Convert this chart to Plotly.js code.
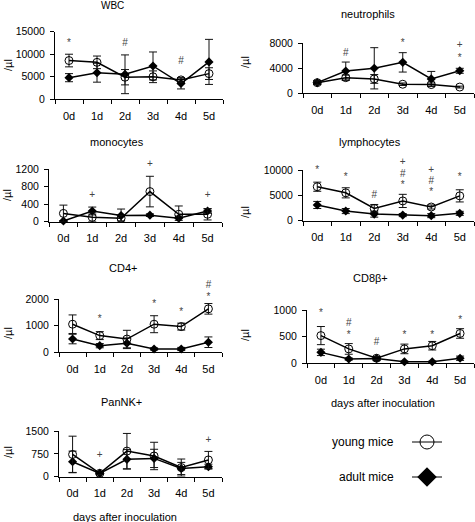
<!DOCTYPE html>
<html>
<head>
<meta charset="utf-8">
<script src="https://cdn.plot.ly/plotly-3.0.1.min.js"></script>
<style>
html,body{margin:0;padding:0;background:#fff;}
#chart{width:475px;height:522px;}
</style>
</head>
<body>
<div id="chart"></div>
<script>
// ---------- data ----------
const days = ['0d', '1d', '2d', '3d', '4d', '5d'];
const panelTitles = ['WBC', 'neutrophils', 'monocytes', 'lymphocytes', 'CD4+', 'CD8β+', 'PanNK+'];
const yUnit = '/µl';
const xTitle = 'days after inoculation';
const seriesNames = ['young mice', 'adult mice'];

// WBC
const wbcYoung = [8600, 8200, 4900, 5000, 4300, 5700];
const wbcYoungErr = [1400, 1400, 1700, 1300, 500, 1300];
const wbcAdult = [4800, 5900, 5550, 7400, 3500, 8300];
const wbcAdultErr = [900, 2100, 4300, 3100, 1200, 5000];
const wbcSigDays = ['0d', '2d', '4d'];
const wbcSigText = ['*', '#', '#'];
const wbcSigY = [12300, 12300, 8300];

// neutrophils
const neuYoung = [1700, 2500, 2300, 1450, 1400, 1000];
const neuYoungErr = [300, 400, 700, 200, 250, 150];
const neuAdult = [1700, 3550, 4000, 4950, 2300, 3600];
const neuAdultErr = [300, 1450, 3300, 1550, 1200, 400];
const neuSigDays = ['1d', '3d', '5d', '5d'];
const neuSigText = ['#', '*', '+', '*'];
const neuSigY = [6400, 8000, 7700, 5600];

// monocytes
const monYoung = [190, 100, 80, 690, 170, 170];
const monYoungErr = [190, 100, 60, 350, 190, 130];
const monAdult = [15, 245, 140, 150, 80, 245];
const monAdultErr = [10, 90, 150, 30, 50, 50];
const monSigDays = ['1d', '3d', '5d'];
const monSigText = ['+', '+', '+'];
const monSigY = [610, 1320, 610];

// lymphocytes
const lymYoung = [6700, 5500, 2400, 3900, 2700, 4900];
const lymYoungErr = [900, 1000, 800, 1300, 400, 1200];
const lymAdult = [3100, 1900, 1300, 1100, 1000, 1450];
const lymAdultErr = [700, 500, 600, 300, 400, 400];
const lymSigDays = ['0d', '1d', '2d', '3d', '3d', '3d', '4d', '4d', '4d', '5d'];
const lymSigText = ['*', '*', '#', '+', '#', '*', '+', '#', '*', '*'];
const lymSigY = [10000, 8500, 4900, 11400, 9200, 7000, 9900, 7800, 5600, 8500];

// CD4+
const cd4Young = [1060, 630, 500, 1060, 970, 1640];
const cd4YoungErr = [350, 150, 330, 320, 130, 200];
const cd4Adult = [500, 250, 340, 125, 125, 380];
const cd4AdultErr = [180, 80, 200, 40, 60, 200];
const cd4SigDays = ['1d', '3d', '4d', '5d', '5d'];
const cd4SigText = ['*', '*', '*', '*', '#'];
const cd4SigY = [1220, 1790, 1500, 2060, 2520];

// CD8β+
const cd8Young = [520, 270, 95, 270, 330, 560];
const cd8YoungErr = [170, 100, 30, 90, 80, 90];
const cd8Adult = [205, 80, 90, 30, 30, 95];
const cd8AdultErr = [60, 20, 40, 10, 10, 40];
const cd8SigDays = ['0d', '1d', '1d', '2d', '3d', '4d', '5d'];
const cd8SigText = ['*', '#', '*', '#', '*', '*', '*'];
const cd8SigY = [940, 750, 530, 390, 530, 530, 810];

// PanNK+
const nkYoung = [730, 110, 840, 680, 300, 550];
const nkYoungErr = [600, 40, 580, 450, 280, 280];
const nkAdult = [490, 110, 570, 600, 270, 330];
const nkAdultErr = [350, 30, 320, 300, 200, 80];
const nkSigDays = ['1d', '5d'];
const nkSigText = ['+', '+'];
const nkSigY = [710, 1200];

const yMax = [15000, 8000, 1200, 10000, 2000, 1000, 1500];
const yStep = [5000, 4000, 400, 5000, 1000, 500, 750];

// ---------- layout geometry (pixels) ----------
const W = 475, H = 522;
const boxes = [
  [55, 223, 31.7, 99.3],
  [303, 474, 43.3, 93.3],
  [49, 222, 169.3, 221.7],
  [303, 474, 170, 220.7],
  [59, 222, 299.3, 352.3],
  [307, 474, 310, 363.3],
  [59, 222, 431, 476.7]
];
const titlePos = [[112, 6], [368, 14], [117, 142], [370, 142], [123, 268], [370, 278], [122, 402]];
const unitPos = [[8, 65], [245, 62], [7, 195], [245, 212], [8, 333], [245, 335], [8, 452]];
const EXT = 28; // extra px above each plot for the significance marks

const panels = [
  [wbcYoung, wbcYoungErr, wbcAdult, wbcAdultErr, wbcSigDays, wbcSigText, wbcSigY],
  [neuYoung, neuYoungErr, neuAdult, neuAdultErr, neuSigDays, neuSigText, neuSigY],
  [monYoung, monYoungErr, monAdult, monAdultErr, monSigDays, monSigText, monSigY],
  [lymYoung, lymYoungErr, lymAdult, lymAdultErr, lymSigDays, lymSigText, lymSigY],
  [cd4Young, cd4YoungErr, cd4Adult, cd4AdultErr, cd4SigDays, cd4SigText, cd4SigY],
  [cd8Young, cd8YoungErr, cd8Adult, cd8AdultErr, cd8SigDays, cd8SigText, cd8SigY],
  [nkYoung, nkYoungErr, nkAdult, nkAdultErr, nkSigDays, nkSigText, nkSigY]
];

const FONT = 'Liberation Sans, Arial, sans-serif';
const traces = [];
const layout = {
  width: W, height: H,
  margin: {l: 0, r: 0, t: 0, b: 0},
  paper_bgcolor: '#fff', plot_bgcolor: 'rgba(0,0,0,0)',
  font: {family: FONT, size: 11, color: '#000'},
  showlegend: true,
  annotations: []
};

panels.forEach((p, i) => {
  const n = i + 1;
  const xa = n === 1 ? 'x' : 'x' + n;
  const ya = n === 1 ? 'y' : 'y' + n;
  const b = boxes[i];
  layout[n === 1 ? 'xaxis' : 'xaxis' + n] = {
    domain: [b[0] / W, b[1] / W],
    anchor: ya,
    type: 'category',
    categoryorder: 'array', categoryarray: days,
    range: [-0.5, 5.5],
    showline: true, linecolor: '#000', linewidth: 1,
    ticks: 'outside', tickson: 'boundaries', ticklen: 4, tickcolor: '#000',
    ticklabelstandoff: 6,
    showgrid: false, zeroline: false, fixedrange: true,
    tickfont: {family: FONT, size: 11, color: '#000'}
  };
  layout[n === 1 ? 'yaxis' : 'yaxis' + n] = {
    domain: [1 - b[3] / H, 1 - b[2] / H],
    anchor: xa,
    range: [0, yMax[i]],
    tick0: 0, dtick: yStep[i],
    exponentformat: 'none', separatethousands: false, tickformat: 'd',
    showline: true, linecolor: '#000', linewidth: 1,
    ticks: 'outside', ticklen: 4, tickcolor: '#000',
    ticklabelstandoff: 3,
    showgrid: false, zeroline: false, fixedrange: true,
    tickfont: {family: FONT, size: 10.5, color: '#000'}
  };
  // hidden companion axes: same scale, taller box, so marks above the top are kept
  const m = n + 7;
  const xm = 'x' + m, ym = 'y' + m;
  const extTop = b[2] - EXT;
  layout['xaxis' + m] = {
    domain: [b[0] / W, b[1] / W], anchor: ym, type: 'category',
    categoryorder: 'array', categoryarray: days, range: [-0.5, 5.5],
    visible: false, fixedrange: true
  };
  layout['yaxis' + m] = {
    domain: [1 - b[3] / H, 1 - extTop / H], anchor: xm,
    range: [0, yMax[i] * (b[3] - extTop) / (b[3] - b[2])],
    visible: false, fixedrange: true
  };
  // adult
  traces.push({
    type: 'scatter', mode: 'lines+markers', x: days, y: p[2], xaxis: xa, yaxis: ya,
    showlegend: false, cliponaxis: false,
    line: {color: '#000', width: 1.5},
    marker: {symbol: 'diamond', size: 7, color: '#000'},
    error_y: {type: 'data', array: p[3], visible: true, color: '#111', thickness: 1, width: 4}
  });
  // young
  traces.push({
    type: 'scatter', mode: 'lines+markers', x: days, y: p[0], xaxis: xa, yaxis: ya,
    showlegend: false, cliponaxis: false,
    line: {color: '#000', width: 1.5},
    marker: {symbol: 'circle-open', size: 8, color: '#000', line: {width: 1}},
    error_y: {type: 'data', array: p[1], visible: true, color: '#111', thickness: 1, width: 4}
  });
  // significance marks
  traces.push({
    type: 'scatter', mode: 'text', x: p[4], y: p[6], text: p[5], xaxis: xm, yaxis: ym,
    showlegend: false, cliponaxis: false, hoverinfo: 'skip',
    textposition: 'middle center',
    textfont: {family: FONT, size: 10, color: '#444'}
  });
  layout.annotations.push({
    text: panelTitles[i], xref: 'paper', yref: 'paper',
    x: titlePos[i][0] / W, y: 1 - titlePos[i][1] / H,
    xanchor: 'center', yanchor: 'middle', showarrow: false,
    font: {family: FONT, size: i === 0 ? 10 : 11, color: '#000'}
  });
  layout.annotations.push({
    text: yUnit, xref: 'paper', yref: 'paper',
    x: unitPos[i][0] / W, y: 1 - unitPos[i][1] / H,
    xanchor: 'center', yanchor: 'middle', showarrow: false, textangle: -90,
    font: {family: FONT, size: 11, color: '#000'}
  });
});

// x titles
[[383, 403], [125, 517]].forEach(pos => {
  layout.annotations.push({
    text: xTitle, xref: 'paper', yref: 'paper',
    x: pos[0] / W, y: 1 - pos[1] / H,
    xanchor: 'center', yanchor: 'middle', showarrow: false,
    font: {family: FONT, size: 11, color: '#000'}
  });
});

// legend keys (empty traces shown only in the legends)
traces.push({
  type: 'scatter', mode: 'lines+markers', x: [null], y: [null], name: ' ',
  legend: 'legend', line: {color: '#000', width: 1},
  marker: {symbol: 'circle-open', size: 14, color: '#000', line: {width: 1}}
});
traces.push({
  type: 'scatter', mode: 'lines+markers', x: [null], y: [null], name: ' ',
  legend: 'legend2', line: {color: '#000', width: 1},
  marker: {symbol: 'diamond', size: 15, color: '#000'}
});
layout.legend = {x: 407 / W, y: 1 - 442 / H, xanchor: 'left', yanchor: 'middle',
  bgcolor: 'rgba(0,0,0,0)', borderwidth: 0, font: {size: 12}};
layout.legend2 = {x: 407 / W, y: 1 - 477 / H, xanchor: 'left', yanchor: 'middle',
  bgcolor: 'rgba(0,0,0,0)', borderwidth: 0, font: {size: 12}};
[[seriesNames[0], 442], [seriesNames[1], 477]].forEach(s => {
  layout.annotations.push({
    text: s[0], xref: 'paper', yref: 'paper',
    x: 396 / W, y: 1 - s[1] / H,
    xanchor: 'right', yanchor: 'middle', showarrow: false,
    font: {family: FONT, size: 12, color: '#000'}
  });
});

Plotly.newPlot('chart', traces, layout, {staticPlot: true, displayModeBar: false});
</script>
</body>
</html>
